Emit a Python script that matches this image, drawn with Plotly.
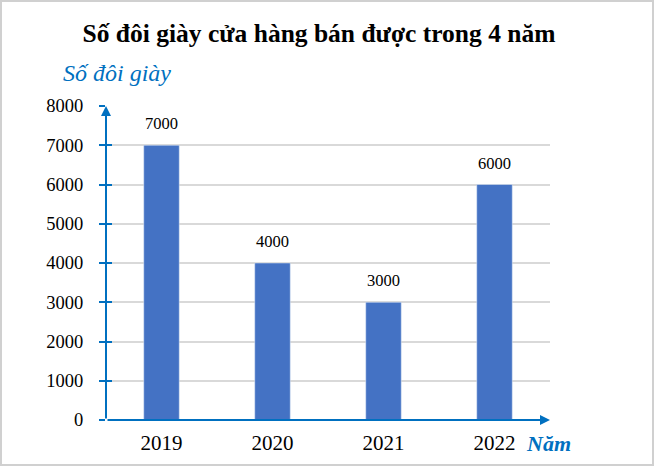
import plotly.graph_objects as go

years = ["2019", "2020", "2021", "2022"]
pairs = [7000, 4000, 3000, 6000]
y_ticks = [0, 1000, 2000, 3000, 4000, 5000, 6000, 7000, 8000]

W, H = 654, 466
L, R, T, B = 106, 104, 106, 46
pw, ph = W - L - R, H - T - B
blue = "#0070C0"
serif = "Liberation Serif, Times New Roman, serif"

fig = go.Figure()
fig.add_trace(go.Bar(x=years, y=pairs, marker_color="#4472C4", width=0.32))
# dummy trace so the second y axis (inside tick marks) is drawn
fig.add_trace(go.Scatter(x=years, y=pairs, yaxis="y2", mode="none",
                         showlegend=False, hoverinfo="skip"))

# value labels above the bars (category index as x position)
labels = [dict(x=i, y=v, xref="x", yref="y", text=str(v), showarrow=False,
               yanchor="bottom", yshift=10,
               font=dict(family=serif, size=16.5, color="#000000"))
          for i, v in enumerate(pairs)]

fig.update_layout(
    width=W, height=H,
    margin=dict(l=L, r=R, t=T, b=B),
    paper_bgcolor="white", plot_bgcolor="white",
    showlegend=False,
    font=dict(family=serif, color="#000000", size=18),
    title=dict(text="<b>Số đôi giày cửa hàng bán được trong 4 năm</b>",
               x=319 / W, xanchor="center", y=1 - 33 / H, yanchor="middle",
               font=dict(family=serif, size=25.5, color="#000000")),
    xaxis=dict(type="category", showgrid=False, showline=False, ticks="",
               tickfont=dict(family=serif, size=21), zeroline=False,
               ticklabelstandoff=8),
    yaxis=dict(range=[0, 8000], tickvals=y_ticks, showgrid=True,
               gridcolor="#d9d9d9", gridwidth=1.5, zeroline=False,
               showline=False, ticks="outside", ticklen=6, tickwidth=2,
               tickcolor=blue, tickfont=dict(family=serif, size=18.5),
               ticklabelstandoff=12),
    yaxis2=dict(range=[0, 8000], tickvals=y_ticks, overlaying="y", side="left",
                showgrid=False, zeroline=False, showline=False,
                ticks="inside", ticklen=6, tickwidth=2, tickcolor=blue,
                showticklabels=False),
    shapes=[dict(type="rect", xref="paper", yref="paper",
                 x0=-(L - 1) / pw, x1=1 + (R - 1) / pw,
                 y0=-(B - 1) / ph, y1=1 + (T - 1) / ph,
                 line=dict(color="#d0d0d0", width=2), layer="below")],
    annotations=labels + [
        # y axis arrow
        dict(xref="paper", yref="paper", x=0, y=1, ax=0, ay=ph,
             showarrow=True, arrowhead=2,
             arrowsize=1, arrowwidth=2, arrowcolor=blue, text=""),
        # x axis arrow
        dict(xref="paper", yref="paper", x=1, y=0, ax=-pw, ay=0,
             showarrow=True, arrowhead=2, arrowsize=1, arrowwidth=2,
             arrowcolor=blue, text=""),
        dict(xref="paper", yref="paper", x=-45 / pw, y=1 + 33 / ph,
             xanchor="left", yanchor="middle", showarrow=False,
             text="<i>Số đôi giày</i>",
             font=dict(family=serif, size=24, color=blue)),
        dict(xref="paper", yref="paper", x=1 - 2 / pw, y=-23 / ph,
             xanchor="center", yanchor="middle", showarrow=False,
             text="<b><i>Năm</i></b>",
             font=dict(family=serif, size=22, color=blue)),
    ],
)

fig.write_html("out.html", config={"displayModeBar": False},
               post_script="document.body.style.margin='0';")
